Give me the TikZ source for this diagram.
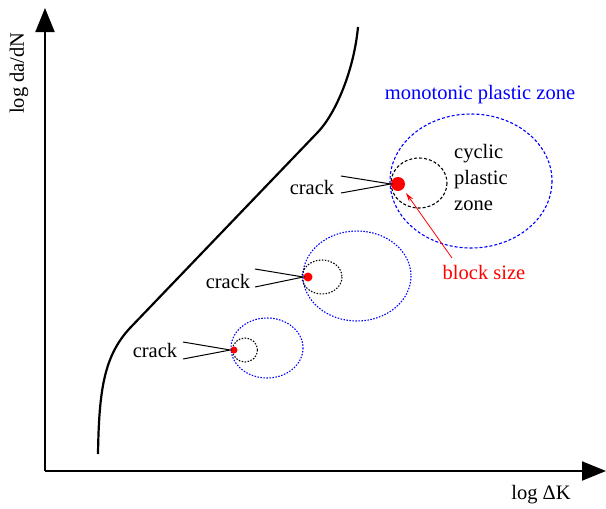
\documentclass[tikz,border=0pt]{standalone}
\usepackage{fontspec}
\setmainfont{Liberation Serif}
\newfontfamily\tnr{Liberation Serif}
\usetikzlibrary{arrows.meta,calc}

\begin{document}
\begin{tikzpicture}[x=1pt,y=-1pt,font=\tnr\fontsize{20.5}{26}\selectfont,
  axis/.style={line width=2pt,-{Triangle[length=24pt,width=19pt]}},
  mono/.style={blue,line width=1.1pt},
  cyc/.style={black,line width=1.1pt},
  tip/.style={circle,fill=red,inner sep=0pt},
  lbl/.style={inner sep=0pt}]
\useasboundingbox (0,0) rectangle (606,509);
% axes
\coordinate (o) at (45,471);
\draw[axis] (o) -- (45,8);
\draw[axis] (o) -- (606,471);
\node[lbl,rotate=90] (ylab) at (19,73) {log da/dN};
\node[lbl] (xlab) at (541,495) {log ΔK};
% growth curve
\draw[line width=2.2pt] (98,454) .. controls (99,390) and (104,356) .. (130,328)
  -- (318,132) .. controls (336,113) and (354,70) .. (358,27);
% zones
\draw[mono,dash pattern=on 3pt off 2pt] (471,181) ellipse (81 and 67);
\draw[cyc,dash pattern=on 3pt off 2pt] (419,183) ellipse (28 and 25);
\draw[mono,dash pattern=on 1.5pt off 1.5pt] (357,276) ellipse (54 and 45);
\draw[cyc,dash pattern=on 1.5pt off 1.5pt] (322,277) ellipse (20 and 17);
\draw[mono,dash pattern=on 1.5pt off 1.5pt] (267,348) ellipse (36 and 30);
\draw[cyc,dash pattern=on 1.5pt off 1.5pt] (245,350) ellipse (12.5 and 12);
% crack tips
\node[tip,minimum size=14pt] (tipA) at (398,184) {};
\node[tip,minimum size=9pt] (tipB) at (308,277) {};
\node[tip,minimum size=7pt] (tipC) at (234,350) {};
\node[lbl] (crackA) at (312,187) {crack};
\node[lbl] (crackB) at (228,281) {crack};
\node[lbl] (crackC) at (155,350) {crack};
\coordinate (a1) at (341,176); \coordinate (a2) at (341,193);
\coordinate (b1) at (255,269); \coordinate (b2) at (255,287);
\coordinate (c1) at (183,342); \coordinate (c2) at (183,359);
\draw[line width=1pt] (a1) -- (tipA.west) -- (a2);
\draw[line width=1pt] (b1) -- (tipB.west) -- (b2);
\draw[line width=1pt] (c1) -- (tipC.west) -- (c2);
% labels
\node[lbl,blue] (mono) at (480,95) {monotonic plastic zone};
\node[lbl,anchor=west,align=left] (cyclic) at (454,177) {cyclic\\plastic\\zone};
\node[lbl,red] (block) at (484,272) {block size};
\draw[red,line width=0.8pt,-{Stealth[length=9pt,width=5pt]}] (452,258) -- (406,193);
\end{tikzpicture}
\end{document}
